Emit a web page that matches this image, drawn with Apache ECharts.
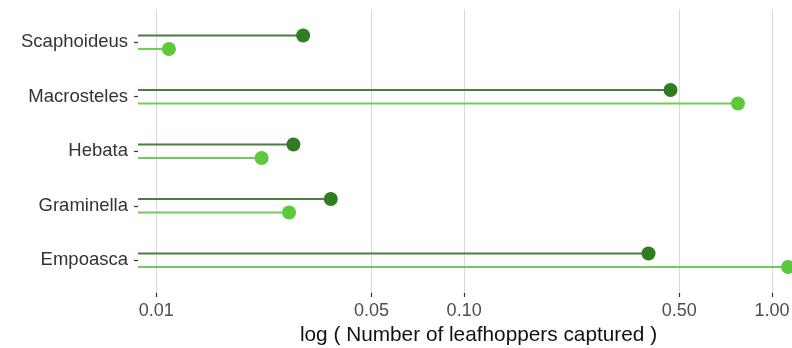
<!DOCTYPE html>
<html>
<head>
<meta charset="utf-8">
<script src="https://cdn.jsdelivr.net/npm/echarts@6/dist/echarts.min.js"></script>
<style>
  html, body { margin: 0; padding: 0; background: #ffffff; }
  #chart { width: 792px; height: 348px; }
</style>
</head>
<body>
<div id="chart"></div>
<script>
// Genera, listed top to bottom
const genera = ['Scaphoideus', 'Macrosteles', 'Hebata', 'Graminella', 'Empoasca'];
// Leafhoppers captured per genus, two groups
const darkValues  = [0.030, 0.468, 0.0279, 0.0369, 0.397];
const lightValues = [0.011, 0.775, 0.0220, 0.0270, 1.127];
// Axis tick values (log scale)
const xTicks = [0.01, 0.05, 0.10, 0.50, 1.00];

const DARK_LINE = '#4d7d41';
const DARK_DOT = '#2f7d20';
const LIGHT_LINE = '#72c95c';
const LIGHT_DOT = '#5cc83c';

// 5% padding on each side of the data range, in log space
const allVals = darkValues.concat(lightValues);
const lo = Math.log10(Math.min.apply(null, allVals));
const hi = Math.log10(Math.max.apply(null, allVals));
const pad = (hi - lo) * 0.05;
const xMin = Math.pow(10, lo - pad);
const xMax = Math.pow(10, hi + pad);

function lollipop(lineColor, dotColor, offset) {
  return function (params, api) {
    const p = api.coord([api.value(0), api.value(1)]);
    const x0 = params.coordSys.x;
    const y = p[1] + offset;
    return {
      type: 'group',
      children: [
        {
          type: 'line',
          shape: { x1: x0, y1: y, x2: p[0], y2: y },
          style: { stroke: lineColor, lineWidth: 2 }
        },
        {
          type: 'circle',
          shape: { cx: p[0], cy: y, r: 7 },
          style: { fill: dotColor }
        }
      ]
    };
  };
}

const chart = echarts.init(document.getElementById('chart'), null, { renderer: 'canvas' });
chart.setOption({
  animation: false,
  backgroundColor: '#ffffff',
  grid: { left: 138, top: 9.5, width: 681, height: 283.5, containLabel: false, outerBoundsMode: 'none' },
  xAxis: {
    type: 'log',
    logBase: 10,
    min: xMin,
    max: xMax,
    name: 'log ( Number of leafhoppers captured )',
    nameLocation: 'middle',
    nameGap: 31,
    nameTextStyle: { color: '#111111', fontSize: 20.8, fontFamily: 'Liberation Sans' },
    axisLine: { show: false, onZero: false },
    axisTick: { show: true, customValues: xTicks, length: 4, lineStyle: { color: '#333333', width: 1.2 } },
    axisLabel: {
      customValues: xTicks,
      margin: 9,
      color: '#4d4d4d',
      fontSize: 18,
      fontFamily: 'Liberation Sans',
      formatter: function (v) { return Number(v).toFixed(2); }
    },
    splitLine: { show: true, lineStyle: { color: '#dadada', width: 1 } },
    minorSplitLine: { show: false }
  },
  yAxis: {
    type: 'value',
    inverse: true,
    min: -0.6,
    max: 4.6,
    axisLine: { show: false, onZero: false },
    axisTick: { show: true, customValues: [0, 1, 2, 3, 4], length: 4, lineStyle: { color: '#333333', width: 1.2 } },
    axisLabel: {
      customValues: [0, 1, 2, 3, 4],
      margin: 10,
      color: '#333333',
      fontSize: 18.5,
      fontFamily: 'Liberation Sans',
      formatter: function (v) { return genera[Math.round(v)] || ''; }
    },
    splitLine: { show: false }
  },
  series: [
    {
      name: 'dark',
      type: 'custom',
      renderItem: lollipop(DARK_LINE, DARK_DOT, -6.75),
      data: darkValues.map(function (v, i) { return [v, i]; }),
      encode: { x: 0, y: 1 },
      clip: false,
      z: 3
    },
    {
      name: 'light',
      type: 'custom',
      renderItem: lollipop(LIGHT_LINE, LIGHT_DOT, 6.75),
      data: lightValues.map(function (v, i) { return [v, i]; }),
      encode: { x: 0, y: 1 },
      clip: false,
      z: 3
    }
  ]
});
</script>
</body>
</html>
